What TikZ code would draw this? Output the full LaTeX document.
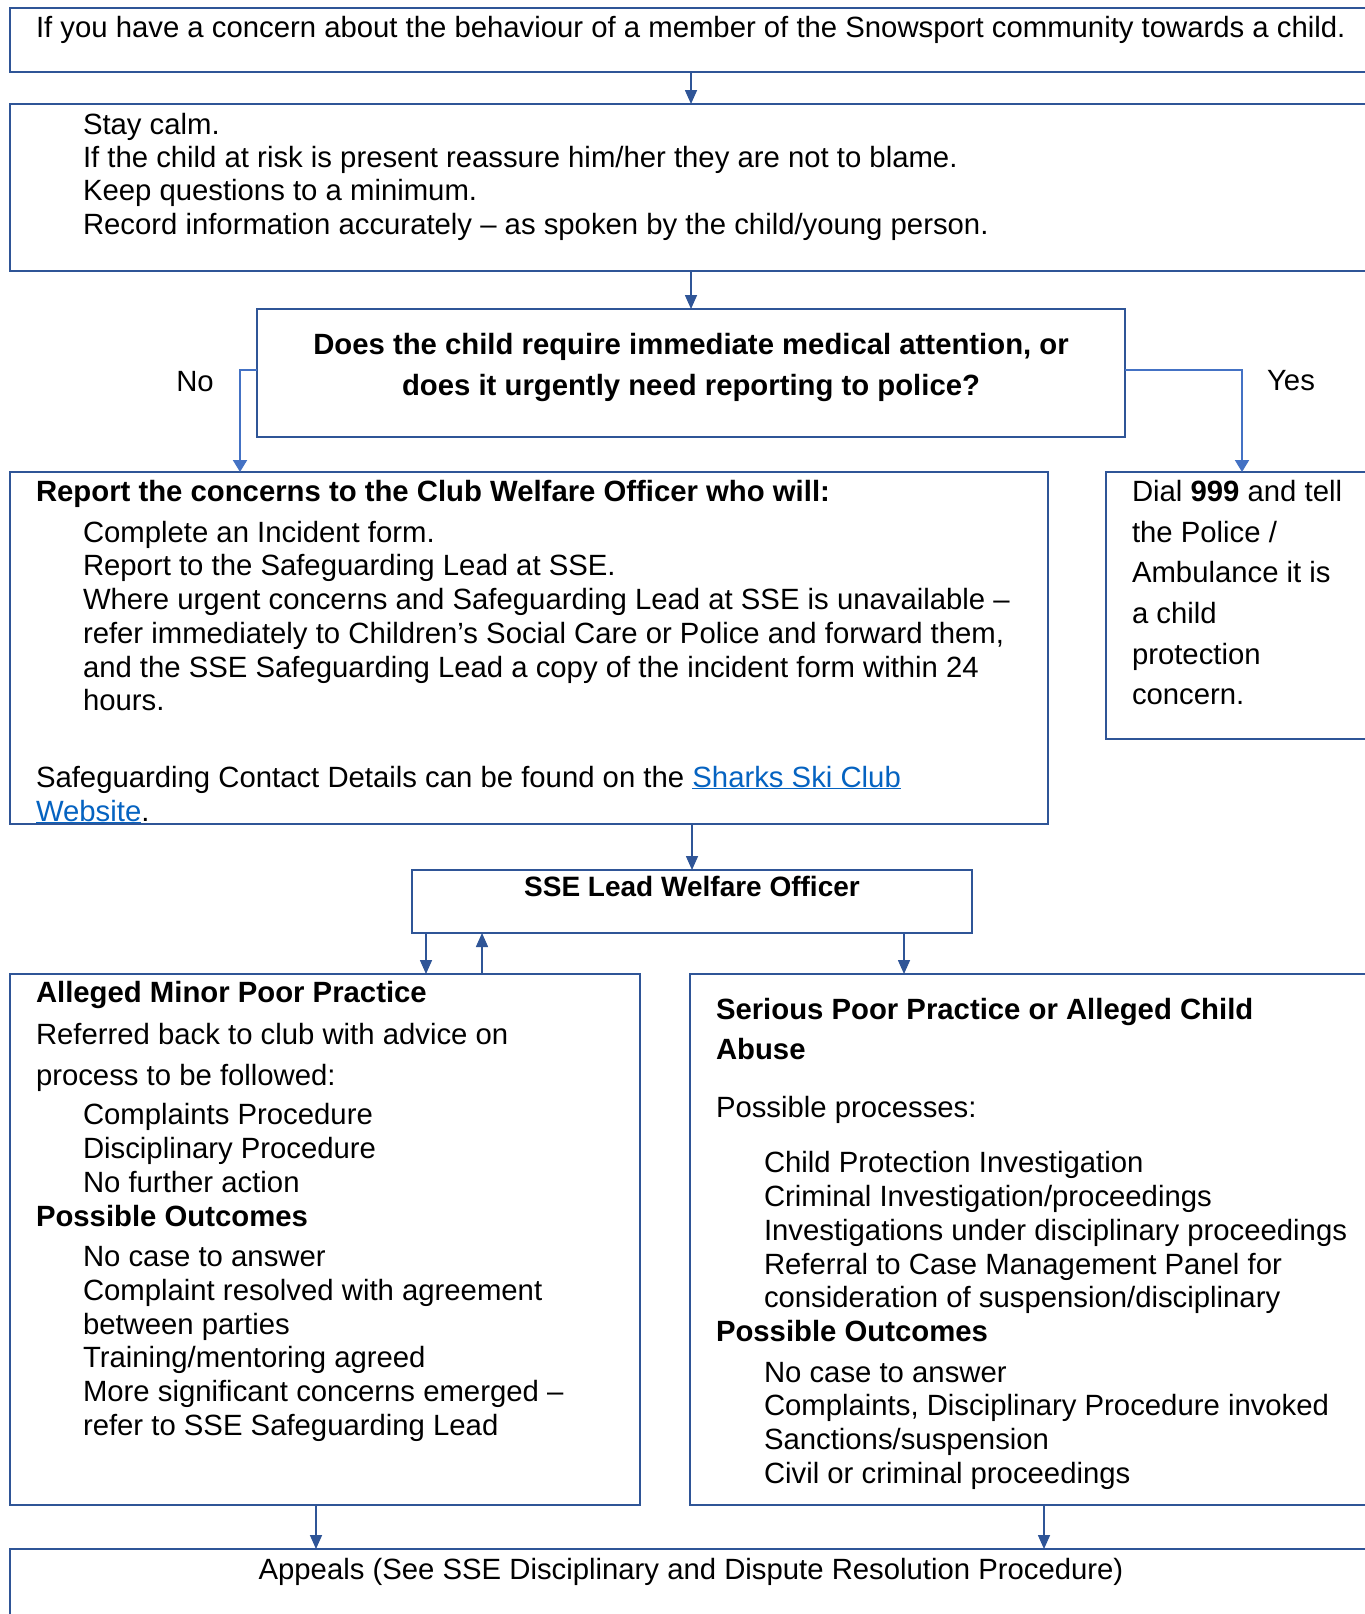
\documentclass[tikz,border=0pt]{standalone}
\usepackage{fontspec}
\setmainfont{Liberation Sans}
\usetikzlibrary{arrows.meta}
\definecolor{boxblue}{HTML}{2F5597}
\definecolor{lineblue}{HTML}{4472C4}
\definecolor{linkblue}{HTML}{0563C1}
\begin{document}
\begin{tikzpicture}[x=1pt,y=-1pt,
  box/.style={draw=boxblue, line width=2.5pt, rectangle, inner sep=0pt, outer sep=0pt, anchor=north west},
  txt/.style={anchor=base west, inner sep=0pt, outer sep=0pt, font=\fontsize{29.3}{34}\selectfont},
  ctxt/.style={txt, anchor=base},
  arr/.style={draw=boxblue, line width=1.6pt, -{Triangle[length=14pt,width=12pt]}},
  arrl/.style={draw=lineblue, line width=2pt, -{Triangle[length=12pt,width=14pt]}}]
\useasboundingbox (0,0) rectangle (1365,1614);
\clip (0,0) rectangle (1365,1614);
\fill[white] (0,0) rectangle (1365,1614);
% boxes
\node[box, minimum width=1380pt, minimum height=64pt] (b1) at (10,8) {};
\node[box, minimum width=1380pt, minimum height=167pt] (b2) at (10,104) {};
\node[box, minimum width=868pt, minimum height=128pt] (dec) at (257,309) {};
\node[box, minimum width=1038pt, minimum height=352pt] (rep) at (10,472) {};
\node[box, minimum width=290pt, minimum height=267pt] (dial) at (1106,472) {};
\node[box, minimum width=560pt, minimum height=63pt] (sse) at (412,870) {};
\node[box, minimum width=630pt, minimum height=531pt] (minor) at (10,974) {};
\node[box, minimum width=700pt, minimum height=531pt] (ser) at (690,974) {};
\node[box, minimum width=1380pt, minimum height=100pt] (app) at (10,1549) {};
% connectors
\draw[arr] ([xshift=681pt]b1.south west) -- ([xshift=681pt]b2.north west);
\draw[arr] (b2.south -| dec.north) -- (dec.north);
\draw[arrl] ([yshift=3pt]dec.west) -| ([xshift=230pt]rep.north west);
\draw[arrl] ([yshift=3pt]dec.east) -| ([xshift=136pt]dial.north west);
\draw[arr] (rep.south -| sse.north) -- (sse.north);
\draw[arr] ([xshift=14pt]sse.south west) -- ([xshift=416pt]minor.north west);
\draw[arr] ([xshift=472pt]minor.north west) -- ([xshift=70pt]sse.south west);
\draw[arr] ([xshift=492pt]sse.south west) -- ([xshift=214pt]ser.north west);
\draw[arr] ([xshift=306pt]minor.south west) -- ([xshift=306pt]app.north west);
\draw[arr] ([xshift=354pt]ser.south west) -- ([xshift=1034pt]app.north west);
% labels
\node[ctxt] (no) at (195,391) {No};
\node[ctxt] (yes) at (1291,390) {Yes};
% box 1
\node[txt] (t1) at (36,37) {If you have a concern about the behaviour of a member of the Snowsport community towards a child.};
% box 2
\node[txt] (t2a) at (83,134) {Stay calm.};
\node[txt] (t2b) at (83,167.5) {If the child at risk is present reassure him/her they are not to blame.};
\node[txt] (t2c) at (83,200.5) {Keep questions to a minimum.};
\node[txt] (t2d) at (83,234) {Record information accurately -- as spoken by the child/young person.};
% decision
\node[ctxt] (d1) at (691,354) {\bfseries Does the child require immediate medical attention, or};
\node[ctxt] (d2) at (691,395) {\bfseries does it urgently need reporting to police?};
% report
\node[txt] (r0) at (36,501) {\bfseries Report the concerns to the Club Welfare Officer who will:};
\node[txt] (r1) at (83,542) {Complete an Incident form.};
\node[txt] (r2) at (83,575) {Report to the Safeguarding Lead at SSE.};
\node[txt] (r3) at (83,609) {Where urgent concerns and Safeguarding Lead at SSE is unavailable --};
\node[txt] (r4) at (83,643) {refer immediately to Children’s Social Care or Police and forward them,};
\node[txt] (r5) at (83,677) {and the SSE Safeguarding Lead a copy of the incident form within 24};
\node[txt] (r6) at (83,710) {hours.};
\node[txt] (r7) at (36,787) {Safeguarding Contact Details can be found on the \textcolor{linkblue}{\underline{Sharks Ski Club}}};
\node[txt] (r8) at (36,821) {\textcolor{linkblue}{\underline{Website}}.};
% dial
\node[txt] (y1) at (1132,501) {Dial \textbf{999} and tell};
\node[txt] (y2) at (1132,542) {the Police /};
\node[txt] (y3) at (1132,582) {Ambulance it is};
\node[txt] (y4) at (1132,623) {a child};
\node[txt] (y5) at (1132,664) {protection};
\node[txt] (y6) at (1132,704) {concern.};
% sse
\node[ctxt, font=\fontsize{28}{32}\selectfont] (s1) at (692,896) {\bfseries SSE Lead Welfare Officer};
% minor
\node[txt] (m0) at (36,1002) {\bfseries Alleged Minor Poor Practice};
\node[txt] (m1) at (36,1044) {Referred back to club with advice on};
\node[txt] (m2) at (36,1085) {process to be followed:};
\node[txt] (m3) at (83,1124) {Complaints Procedure};
\node[txt] (m4) at (83,1158) {Disciplinary Procedure};
\node[txt] (m5) at (83,1192) {No further action};
\node[txt] (m6) at (36,1226) {\bfseries Possible Outcomes};
\node[txt] (m7) at (83,1266) {No case to answer};
\node[txt] (m8) at (83,1300) {Complaint resolved with agreement};
\node[txt] (m9) at (83,1334) {between parties};
\node[txt] (m10) at (83,1367) {Training/mentoring agreed};
\node[txt] (m11) at (83,1401) {More significant concerns emerged --};
\node[txt] (m12) at (83,1435) {refer to SSE Safeguarding Lead};
% serious
\node[txt] (p0) at (716,1019) {\bfseries Serious Poor Practice or Alleged Child};
\node[txt] (p1) at (716,1059) {\bfseries Abuse};
\node[txt] (p2) at (716,1117) {Possible processes:};
\node[txt] (p3) at (764,1172) {Child Protection Investigation};
\node[txt] (p4) at (764,1206) {Criminal Investigation/proceedings};
\node[txt] (p5) at (764,1240) {Investigations under disciplinary proceedings};
\node[txt] (p6) at (764,1274) {Referral to Case Management Panel for};
\node[txt] (p7) at (764,1307) {consideration of suspension/disciplinary};
\node[txt] (p8) at (716,1341) {\bfseries Possible Outcomes};
\node[txt] (p9) at (764,1382) {No case to answer};
\node[txt] (p10) at (764,1415) {Complaints, Disciplinary Procedure invoked};
\node[txt] (p11) at (764,1449) {Sanctions/suspension};
\node[txt] (p12) at (764,1483) {Civil or criminal proceedings};
% appeals
\node[ctxt] (a1) at (691,1579) {Appeals (See SSE Disciplinary and Dispute Resolution Procedure)};
\end{tikzpicture}
\end{document}
